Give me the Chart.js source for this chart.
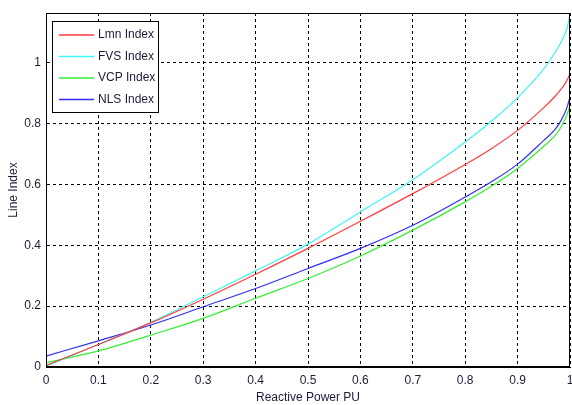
<!DOCTYPE html>
<html>
<head>
<meta charset="utf-8">
<script src="https://cdn.jsdelivr.net/npm/chart.js@4/dist/chart.umd.min.js"></script>
<style>
  html, body { margin: 0; padding: 0; background: #fff; }
  #wrap { width: 572px; height: 405px; position: relative; }
</style>
</head>
<body>
<div id="wrap"><canvas id="c" width="572" height="405"></canvas></div>
<script>
// Reactive power (x) sample points
const xPU = [0, 0.1, 0.2, 0.3, 0.4, 0.5, 0.6, 0.7, 0.8, 0.85, 0.9, 0.95, 0.97, 0.98, 0.99, 0.995, 1.0];
// Line index values per series
const lmn = [0.005, 0.074, 0.145, 0.223, 0.305, 0.39, 0.479, 0.570, 0.666, 0.718, 0.778, 0.853, 0.887, 0.907, 0.93, 0.945, 0.965];
const fvs = [0.003, 0.074, 0.147, 0.231, 0.316, 0.404, 0.51, 0.616, 0.74, 0.808, 0.885, 0.98, 1.03, 1.058, 1.093, 1.118, 1.161];
const vcp = [0.014, 0.053, 0.105, 0.16, 0.226, 0.291, 0.365, 0.45, 0.543, 0.594, 0.653, 0.726, 0.758, 0.781, 0.812, 0.833, 0.86];
const nls = [0.036, 0.086, 0.138, 0.198, 0.258, 0.324, 0.39, 0.466, 0.559, 0.609, 0.667, 0.745, 0.778, 0.802, 0.835, 0.858, 0.888];
const seriesNames = ['Lmn Index', 'FVS Index', 'VCP Index', 'NLS Index'];
const xTicks = [0, 0.1, 0.2, 0.3, 0.4, 0.5, 0.6, 0.7, 0.8, 0.9, 1];
const yTicks = [0, 0.2, 0.4, 0.6, 0.8, 1];

const FONT = "'Liberation Sans', Arial, sans-serif";
const TXT = '#1c1c3a';
const colors = ['#ff3b3b', '#3ff5f5', '#33ee33', '#3030ee'];
const seriesVals = [lmn, fvs, vcp, nls];

const datasets = seriesVals.map((vals, i) => ({
  label: seriesNames[i],
  data: xPU.map((x, j) => ({x: x, y: vals[j]})),
  borderColor: colors[i],
  borderWidth: 1.2,
  pointRadius: 0,
  showLine: true,
  fill: false,
  cubicInterpolationMode: 'monotone'
}));

const boxLegend = {
  id: 'boxLegend',
  afterDraw(chart) {
    const ctx = chart.ctx;
    const a = chart.chartArea;
    ctx.save();
    ctx.strokeStyle = '#000';
    ctx.lineWidth = 1;
    ctx.setLineDash([]);
    ctx.strokeRect(a.left + 0.5, a.top + 0.5, a.right - a.left - 1, a.bottom - a.top - 1);
    const lx = 52.5, ly = 21.5, lw = 106, lh = 91;
    ctx.fillStyle = '#fff';
    ctx.fillRect(lx, ly, lw, lh);
    ctx.strokeRect(lx, ly, lw, lh);
    ctx.font = '12px ' + FONT;
    ctx.textBaseline = 'middle';
    chart.data.datasets.forEach((ds, i) => {
      const y = 35 + i * 21.5;
      ctx.strokeStyle = ds.borderColor;
      ctx.lineWidth = 1.3;
      ctx.beginPath();
      ctx.moveTo(59, y);
      ctx.lineTo(94, y);
      ctx.stroke();
      ctx.fillStyle = TXT;
      ctx.fillText(ds.label, 98, y);
    });
    ctx.restore();
  }
};

const gridOpts = { color: '#000', lineWidth: 1, drawTicks: false, tickLength: 0 };
const borderOpts = { display: true, color: '#000', dash: [3, 3] };

new Chart(document.getElementById('c'), {
  type: 'scatter',
  data: { datasets },
  options: {
    responsive: false,
    animation: false,
    layout: { padding: { left: 0, right: 2, top: 13, bottom: 0 } },
    plugins: { legend: { display: false }, tooltip: { enabled: false } },
    scales: {
      x: {
        type: 'linear', min: 0, max: 1,
        afterFit(s) { s.height = 38; s.paddingLeft = 0; s.paddingRight = 0; },
        afterBuildTicks(s) { s.ticks = xTicks.map(v => ({value: v})); },
        ticks: {
          color: TXT, font: { family: FONT, size: 12 }, padding: 6, maxRotation: 0,
          callback: v => String(+v.toFixed(1))
        },
        grid: gridOpts,
        border: borderOpts,
        title: { display: true, text: 'Reactive Power PU', color: TXT, font: { family: FONT, size: 12 }, padding: { top: 4, bottom: 0 } }
      },
      y: {
        type: 'linear', min: 0, max: 1.164,
        afterFit(s) { s.width = 46; s.paddingTop = 0; s.paddingBottom = 0; },
        afterBuildTicks(s) { s.ticks = yTicks.map(v => ({value: v})); },
        ticks: {
          color: TXT, font: { family: FONT, size: 12 }, padding: 5,
          callback: v => String(+v.toFixed(1))
        },
        grid: gridOpts,
        border: borderOpts,
        title: { display: true, text: 'Line Index', color: TXT, font: { family: FONT, size: 12 }, padding: { top: 6, bottom: 2 } }
      }
    }
  },
  plugins: [boxLegend]
});
</script>
</body>
</html>
